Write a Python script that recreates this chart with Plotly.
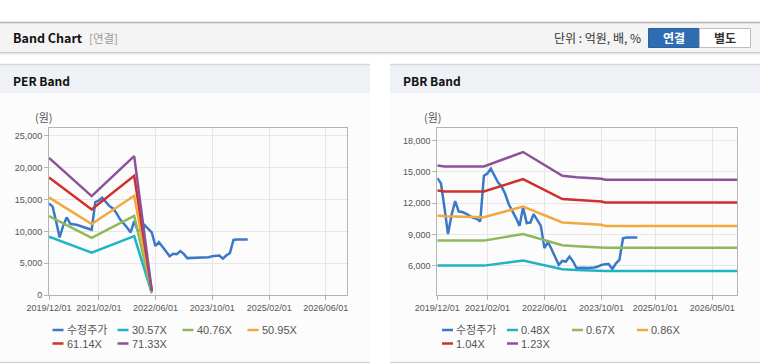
import plotly.graph_objects as go
import pandas as pd

W, H = 760, 364

# ---------------- data ----------------
price_dates = [d.strftime("%Y-%m-%d") for d in pd.date_range("2019-12-01", "2024-08-01", freq="MS")]
price = [14400, 13900, 11500, 9050, 10900, 12200, 11200, 11150, 11000, 10800, 10600, 10500, 10250,
         14600, 14850, 15300, 14700, 14000, 13600, 12900, 11900, 11300, 10600, 9830, 11600,
         10100, 10150, 10950, 10450, 9850, 7700, 8300, 7600, 6750, 6100, 6480, 6420, 6900, 6420,
         5800, 5830, 5830, 5800, 5820, 5860, 5950, 6100, 6170, 6190, 5710, 6250, 6570, 8650, 8720, 8720, 8720, 8720]

per_dates = ["2019-12-01", "2020-12-01", "2021-12-01", "2022-05-01"]
per_names = ["30.57X", "40.76X", "50.95X", "61.14X", "71.33X"]
per_3057 = [9150, 6640, 9260, 300]
per_4076 = [12400, 9000, 12450, 400]
per_5095 = [15340, 11150, 15590, 500]
per_6114 = [18480, 13450, 18730, 600]
per_7133 = [21560, 15540, 21820, 700]

pbr_dates = ["2019-12-01", "2020-02-01", "2021-01-01", "2021-12-01", "2022-11-01",
             "2023-03-01", "2023-10-01", "2023-11-01", "2026-12-01"]
pbr_names = ["0.48X", "0.67X", "0.86X", "1.04X", "1.23X"]
pbr_048 = [6030, 6030, 6030, 6510, 5680, 5620, 5550, 5520, 5520]
pbr_067 = [8420, 8420, 8420, 9060, 7980, 7890, 7790, 7750, 7750]
pbr_086 = [10820, 10750, 10660, 11680, 10150, 10050, 9930, 9830, 9830]
pbr_104 = [13210, 13120, 13120, 14300, 12390, 12320, 12160, 12060, 12060]
pbr_123 = [15610, 15510, 15510, 16890, 14620, 14490, 14330, 14240, 14240]

price_name = "수정주가"

per_ticks = ["2019-12-01", "2021-02-01", "2022-06-01", "2023-10-01", "2025-02-01", "2026-06-01"]
pbr_ticks = ["2019-12-01", "2021-02-01", "2022-06-01", "2023-10-01", "2025-01-01", "2026-05-01"]
x_range = ["2019-12-01", "2026-12-01"]

colors = ["#3a78c8", "#1fb3c5", "#8fb85a", "#f2a93e", "#cf302b", "#8c5299"]

# ---------------- helpers ----------------
def X(px):
    return px / W


def Y(py):
    return 1 - py / H


FONT = "Liberation Sans, Arial, Noto Sans CJK KR, sans-serif"
KFONT = "Noto Sans CJK KR, Liberation Sans, sans-serif"

fig = go.Figure()

# price + bands, PER
fig.add_trace(go.Scatter(x=price_dates, y=price, mode="lines", name=price_name,
                         line=dict(color=colors[0], width=2.5), xaxis="x", yaxis="y", showlegend=False))
for i, vals in enumerate([per_3057, per_4076, per_5095, per_6114, per_7133]):
    fig.add_trace(go.Scatter(x=per_dates, y=vals, mode="lines", name=per_names[i],
                             line=dict(color=colors[i + 1], width=2.5), xaxis="x", yaxis="y",
                             showlegend=False))

# price + bands, PBR
fig.add_trace(go.Scatter(x=price_dates, y=price, mode="lines", name=price_name,
                         line=dict(color=colors[0], width=2.5), xaxis="x2", yaxis="y2", showlegend=False))
for i, vals in enumerate([pbr_048, pbr_067, pbr_086, pbr_104, pbr_123]):
    fig.add_trace(go.Scatter(x=pbr_dates, y=vals, mode="lines", name=pbr_names[i],
                             line=dict(color=colors[i + 1], width=2.5), xaxis="x2", yaxis="y2",
                             showlegend=False))

shapes = []
ann = []

# top header
shapes.append(dict(type="rect", xref="paper", yref="paper", x0=0, x1=1, y0=Y(52.5), y1=Y(22.5),
                   fillcolor="#f4f4f4", line=dict(width=0), layer="below"))
shapes.append(dict(type="line", xref="paper", yref="paper", x0=0, x1=1, y0=Y(22.5), y1=Y(22.5),
                   line=dict(color="#b3b3b3", width=1.5)))
shapes.append(dict(type="line", xref="paper", yref="paper", x0=0, x1=1, y0=Y(52.5), y1=Y(52.5),
                   line=dict(color="#cfcfcf", width=1)))
shapes.append(dict(type="line", xref="paper", yref="paper", x0=0, x1=1, y0=Y(53.5), y1=Y(53.5),
                   line=dict(color="#e6e6e6", width=1)))
shapes.append(dict(type="line", xref="paper", yref="paper", x0=0, x1=1, y0=Y(54.5), y1=Y(54.5),
                   line=dict(color="#f3f3f3", width=1)))

ann.append(dict(text="<b>Band Chart</b>", x=X(11), y=Y(38), xanchor="left", yanchor="middle",
                font=dict(family=KFONT, size=12.5, color="#111111")))
ann.append(dict(text="[연결]", x=X(87), y=Y(38), xanchor="left", yanchor="middle",
                font=dict(family=KFONT, size=11.5, color="#9a9a9a")))
ann.append(dict(text="단위 : 억원, 배, %", x=X(643), y=Y(38), xanchor="right", yanchor="middle",
                font=dict(family=KFONT, size=12, color="#333333")))
# buttons
shapes.append(dict(type="rect", xref="paper", yref="paper", x0=X(648.5), x1=X(699.5), y0=Y(47.5), y1=Y(28.5),
                   fillcolor="#2f6db3", line=dict(color="#2a61a0", width=1)))
shapes.append(dict(type="rect", xref="paper", yref="paper", x0=X(699.5), x1=X(750.5), y0=Y(47.5), y1=Y(28.5),
                   fillcolor="#ffffff", line=dict(color="#bdbdbd", width=1)))
ann.append(dict(text="<b>연결</b>", x=X(674), y=Y(38), xanchor="center", yanchor="middle",
                font=dict(family=KFONT, size=12, color="#ffffff")))
ann.append(dict(text="<b>별도</b>", x=X(725), y=Y(38), xanchor="center", yanchor="middle",
                font=dict(family=KFONT, size=12, color="#333333")))

# panels
for (px0, px1, title, tx) in [(0, 370, "PER Band", 11), (390, 760, "PBR Band", 401)]:
    shapes.append(dict(type="rect", xref="paper", yref="paper", x0=X(px0), x1=X(px1), y0=Y(362), y1=Y(93),
                       fillcolor="#fcfcfc", line=dict(width=0), layer="below"))
    shapes.append(dict(type="rect", xref="paper", yref="paper", x0=X(px0), x1=X(px1), y0=Y(93), y1=Y(64.5),
                       fillcolor="#eef1f6", line=dict(width=0), layer="below"))
    shapes.append(dict(type="line", xref="paper", yref="paper", x0=X(px0), x1=X(px1), y0=Y(64.5), y1=Y(64.5),
                       line=dict(color="#d6d6d6", width=1.5)))
    shapes.append(dict(type="line", xref="paper", yref="paper", x0=X(px0), x1=X(px1), y0=Y(362.5), y1=Y(362.5),
                       line=dict(color="#d6d6d6", width=1.5)))
    ann.append(dict(text="<b>" + title + "</b>", x=X(tx), y=Y(80), xanchor="left", yanchor="middle",
                    font=dict(family=KFONT, size=12, color="#111111")))

# unit labels
ann.append(dict(text="(원)", x=X(33), y=Y(117), xanchor="left", yanchor="middle",
                font=dict(family=KFONT, size=11, color="#555555")))
ann.append(dict(text="(원)", x=X(422), y=Y(117), xanchor="left", yanchor="middle",
                font=dict(family=KFONT, size=11, color="#555555")))

# manual legends
def legend(x0, labels):
    cols = [0, 65, 130, 195]
    for k, lab in enumerate(labels):
        row, col = divmod(k, 4)
        lx = x0 + cols[col]
        ly = 330 + row * 13.5
        shapes.append(dict(type="line", xref="paper", yref="paper", x0=X(lx), x1=X(lx + 11),
                           y0=Y(ly), y1=Y(ly), line=dict(color=colors[k], width=2.5)))
        ann.append(dict(text=lab, x=X(lx + 12), y=Y(ly), xanchor="left", yanchor="middle",
                        font=dict(family=FONT, size=11, color="#555555")))


legend(52.5, [price_name] + per_names)
legend(442, [price_name] + pbr_names)

axis_common = dict(showline=True, linecolor="#b4b4b4", linewidth=1, mirror=True, automargin=False,
                   showgrid=True, gridcolor="#e6e6e6", gridwidth=1,
                   ticks="outside", ticklen=4, tickcolor="#b4b4b4", zeroline=False,
                   tickfont=dict(family=FONT, size=9, color="#555555"))

fig.update_layout(
    width=W, height=H, autosize=False,
    margin=dict(l=0, r=0, t=0, b=0, pad=0, autoexpand=False),
    paper_bgcolor="#ffffff", plot_bgcolor="#ffffff",
    showlegend=False,
    shapes=shapes, annotations=[dict(a, xref="paper", yref="paper", showarrow=False) for a in ann],
    xaxis=dict(axis_common, domain=[X(49), X(347)], type="date", range=x_range, tickangle=0,
               tickvals=per_ticks, ticktext=[t.replace("-", "/") for t in per_ticks], anchor="y"),
    yaxis=dict(axis_common, domain=[Y(295), Y(128)], range=[0, 26250], tickvals=[0, 5000, 10000, 15000, 20000, 25000],
               tickformat=",", anchor="x"),
    xaxis2=dict(axis_common, domain=[X(437.3), X(737.3)], type="date", range=x_range, tickangle=0,
                tickvals=pbr_ticks, ticktext=[t.replace("-", "/") for t in pbr_ticks], anchor="y2"),
    yaxis2=dict(axis_common, domain=[Y(295), Y(128)], range=[3220, 19190],
                tickvals=[6000, 9000, 12000, 15000, 18000], tickformat=",", anchor="x2"),
)

fig.write_html("out.html",
               config={"displayModeBar": False, "responsive": False},
               default_width="760px", default_height="364px",
               post_script="document.body.style.margin='0';document.body.style.overflow='hidden';"
                           "document.documentElement.style.overflow='hidden';")
